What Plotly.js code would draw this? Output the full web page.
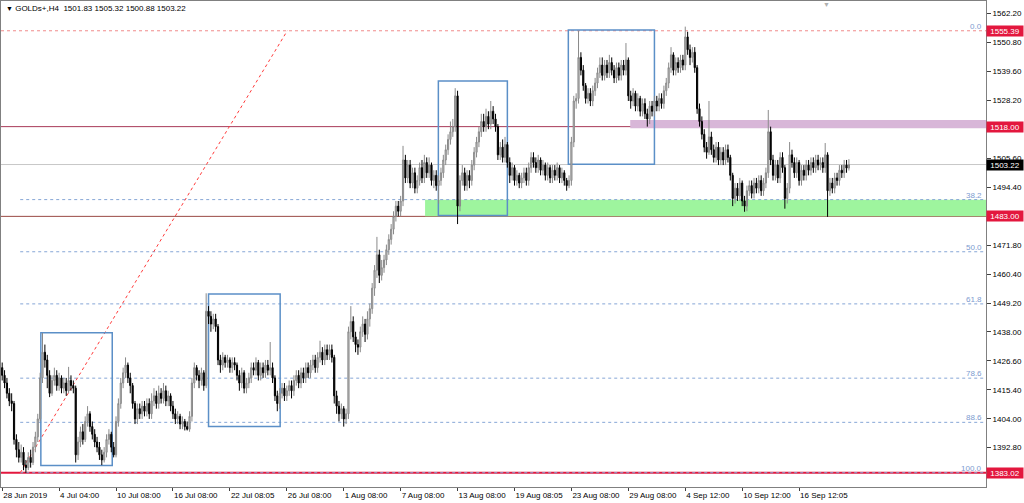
<!DOCTYPE html>
<html><head><meta charset="utf-8">
<script src="https://cdn.plot.ly/plotly-3.0.1.min.js"></script>
<style>html,body{margin:0;padding:0;background:#fff;}#chart{width:1024px;height:503px;}</style>
</head><body><div id="chart"></div>
<script>
const symbolTitle = "GOLDs+,H4  1501.83 1505.32 1500.88 1503.22";

const opens = [
1424,1421,1418,1414,1411,1410,1396,1392,1389,1391,
1386,1385,1389,1387,1393,1397,1404,1420,1430,1427,
1421,1414,1419,1421,1417,1420,1416,1418,1415,1419,
1417,1416,1390,1395,1399,1396,1403,1406,1401,1398,
1395,1393,1390,1388,1391,1396,1398,1393,1390,1403,
1410,1418,1422,1425,1420,1417,1410,1404,1408,1406,
1409,1407,1410,1406,1411,1413,1410,1414,1412,1415,
1411,1413,1409,1406,1404,1405,1402,1403,1401,1400,
1405,1418,1424,1421,1419,1422,1417,1446,1444,1441,
1443,1440,1427,1425,1428,1426,1427,1424,1426,1425,
1421,1418,1422,1416,1418,1420,1424,1423,1426,1421,
1424,1422,1425,1423,1424,1420,1413,1410,1414,1416,
1413,1415,1417,1415,1419,1421,1418,1422,1420,1424,
1422,1425,1427,1424,1428,1430,1427,1431,1429,1431,
1428,1413,1409,1406,1408,1404,1406,1438,1442,1436,
1433,1432,1438,1441,1437,1443,1447,1455,1462,1468,
1460,1463,1466,1470,1474,1478,1483,1487,1485,1489,
1505,1498,1503,1496,1500,1494,1497,1502,1498,1504,
1500,1503,1497,1499,1495,1497,1500,1505,1509,1513,
1516,1518,1530,1487,1497,1500,1495,1499,1497,1503,
1508,1512,1516,1520,1518,1522,1519,1524,1521,1518,
1507,1510,1506,1511,1504,1499,1502,1497,1499,1496,
1498,1500,1497,1502,1506,1504,1502,1505,1501,1503,
1499,1502,1498,1501,1499,1502,1498,1500,1497,1495,
1497,1512,1528,1529,1545,1540,1534,1529,1531,1528,
1532,1535,1539,1542,1538,1542,1539,1543,1540,1537,
1541,1538,1542,1540,1544,1530,1528,1531,1526,1529,
1524,1527,1523,1521,1526,1524,1528,1526,1529,1527,
1532,1535,1541,1546,1540,1543,1541,1544,1542,1553,
1548,1545,1547,1541,1525,1520,1515,1510,1508,1514,
1509,1506,1510,1505,1508,1505,1509,1506,1499,1490,
1494,1491,1496,1489,1487,1493,1495,1492,1496,1494,
1497,1493,1496,1500,1516,1505,1499,1503,1498,1506,
1502,1490,1494,1507,1504,1500,1504,1497,1501,1499,
1503,1501,1504,1502,1505,1503,1504,1502,1507,1493,
1496,1494,1498,1497,1501,1500,1503,1501.83];

const highs = [
1426,1423,1420,1416,1414,1411,1398,1395,1394,1393,
1388,1391,1392,1395,1399,1406,1422,1437.5,1433,1429,
1423,1421,1424,1423,1422,1421,1420,1420,1424.3,1421,
1419,1417,1397,1401,1402,1405,1409,1407,1403,1400,
1397,1395,1392,1393,1398,1400,1399,1395,1405,1412,
1420,1424,1428,1426,1422,1418,1411,1410,1410,1411,
1411,1412,1412,1414,1416,1415,1417,1416,1418,1417,
1415,1414,1411,1408,1407,1406,1405,1404,1403,1407,
1420,1426,1425,1423,1424,1423,1453,1448,1446,1445,
1445,1441,1429,1430,1429,1429,1428,1428,1428,1426,
1423,1424,1423,1420,1422,1426,1426,1428,1427,1426,
1426,1427,1427,1434,1426,1421,1415,1416,1418,1418,
1417,1419,1419,1421,1423,1423,1424,1424,1426,1426,
1427,1429,1429,1430,1434.5,1432,1433,1433,1433,1433,
1429,1415,1411,1410,1409,1408,1440,1448,1444,1438,
1435,1440,1444,1443,1446,1449,1457,1464,1475,1470,
1466,1468,1472,1476,1480,1485,1489,1489,1491,1510.5,
1507,1505,1505,1502,1502,1499,1504,1505,1507,1506,
1506,1504,1501,1501,1499,1502,1507,1511,1515,1520,
1521,1533,1532,1499,1503,1502,1501,1501,1505,1510,
1514,1518,1523,1523,1525,1524,1528,1526,1523,1519,
1512,1513,1514,1512,1506,1504,1503,1501,1500,1500,
1502,1502,1504,1508,1508,1506,1507,1506,1505,1504,
1504,1503,1503,1503,1504,1503,1502,1501,1498,1499,
1514,1530,1531,1555.4,1547,1542,1535,1533,1533,1534,
1537,1541,1545,1545,1544,1544,1546,1545,1542,1543,
1543,1544,1544,1550.6,1545,1532,1533,1532,1531,1530,
1529,1529,1525,1528,1528,1530,1530,1531,1531,1534,
1537,1543,1549,1547,1545,1545,1546,1546,1557,1555,
1550,1549,1549,1542,1527,1522,1517,1512,1528,1516,
1511,1512,1512,1510,1510,1511,1511,1507,1500,1496,
1496,1498,1497,1491,1495,1497,1497,1498,1498,1499,
1499,1498,1502,1524.5,1518,1507,1505,1505,1508,1508,
1503,1496,1512,1509,1506,1506,1505,1503,1503,1505,
1505,1506,1506,1507,1507,1506,1506,1511.6,1508,1498,
1498,1500,1500,1503,1503,1505,1505,1505.32];

const lows = [
1419,1416,1412,1409,1407,1394,1389,1387,1387,1384,
1383,1384,1385,1386,1391,1395,1403,1418,1424,1416,
1412.5,1413,1417,1415,1415,1414,1414,1413,1414,1415,
1414,1387,1388,1393,1394,1395,1401,1399,1396,1393,
1391,1388,1386,1387,1389,1394,1391,1389,1389,1401,
1408,1416,1420,1418,1414,1408,1402,1402,1404,1404,
1405,1405,1404,1404,1409,1408,1408,1410,1410,1409,
1409,1407,1404,1402,1402,1400,1400,1399.5,1399.5,1399,
1403,1416,1419,1416,1417,1415,1416,1441,1438,1439,
1438,1425,1422,1423,1424,1424,1422,1422,1423,1419,
1415,1416,1414,1414,1416,1418,1421,1421,1419,1419,
1420,1420,1421,1421,1418,1411,1407,1408,1412,1411,
1411,1413,1412,1413,1417,1416,1416,1418,1418,1420,
1420,1423,1422,1422,1426,1425,1425,1427,1427,1426,
1410,1406,1403,1404,1401,1402,1404,1435,1434,1430,
1429,1430,1436,1434,1435,1440,1445,1452,1459,1457,
1458,1461,1464,1468,1472,1476,1481,1483,1483,1487,
1496,1496,1494,1494,1492,1492,1495,1496,1496,1498,
1498,1495,1494,1493,1488,1495,1498,1503,1507,1511,
1514,1516,1480,1485,1495,1493,1493,1494,1495,1501,
1506,1510,1514,1516,1516,1517,1517,1519,1516,1505,
1505,1504,1504,1502,1496,1497,1495,1495,1494,1494,
1496,1495,1495,1500,1502,1500,1500,1499,1499,1497,
1497,1496,1496,1497,1497,1496,1496,1495,1493,1494,
1495,1510,1525,1527,1538,1532,1527,1527,1526,1526,
1530,1533,1537,1536,1536,1537,1537,1538,1535,1535,
1536,1536,1538,1538,1528,1525,1526,1524,1524,1522,
1522,1521,1518,1519,1522,1522,1524,1524,1525,1525,
1530,1533,1539,1538,1538,1539,1539,1540,1540,1546,
1542,1543,1539,1523,1518,1513,1508,1505.5,1507,1507,
1504,1504,1503,1503,1503,1503,1504,1497,1487,1488,
1489,1489,1487,1484.8,1485,1491,1490,1490,1492,1492,
1491,1491,1494,1498,1503,1497,1497,1496,1496,1500,
1486,1488,1492,1502,1498,1498,1495,1495,1497,1497,
1499,1499,1500,1500,1501,1501,1500,1500,1482.8,1491,
1492,1492,1495,1495,1498,1498,1500,1500.88];

const closes = [
1421,1418,1414,1411,1410,1396,1392,1389,1391,1386,
1385,1389,1387,1393,1397,1404,1420,1430,1427,1421,
1414,1419,1421,1417,1420,1416,1418,1415,1419,1417,
1416,1390,1395,1399,1396,1403,1406,1401,1398,1395,
1393,1390,1388,1391,1396,1398,1393,1390,1403,1410,
1418,1422,1425,1420,1417,1410,1404,1408,1406,1409,
1407,1410,1406,1411,1413,1410,1414,1412,1415,1411,
1413,1409,1406,1404,1405,1402,1403,1401,1400,1405,
1418,1424,1421,1419,1422,1417,1446,1444,1441,1443,
1440,1427,1425,1428,1426,1427,1424,1426,1425,1421,
1418,1422,1416,1418,1420,1424,1423,1426,1421,1424,
1422,1425,1423,1424,1420,1413,1410,1414,1416,1413,
1415,1417,1415,1419,1421,1418,1422,1420,1424,1422,
1425,1427,1424,1428,1430,1427,1431,1429,1431,1428,
1413,1409,1406,1408,1404,1406,1438,1442,1436,1433,
1432,1438,1441,1437,1443,1447,1455,1462,1468,1460,
1463,1466,1470,1474,1478,1483,1487,1485,1489,1505,
1498,1503,1496,1500,1494,1497,1502,1498,1504,1500,
1503,1497,1499,1495,1497,1500,1505,1509,1513,1516,
1518,1530,1487,1497,1500,1495,1499,1497,1503,1508,
1512,1516,1520,1518,1522,1519,1524,1521,1518,1507,
1510,1506,1511,1504,1499,1502,1497,1499,1496,1498,
1500,1497,1502,1506,1504,1502,1505,1501,1503,1499,
1502,1498,1501,1499,1502,1498,1500,1497,1495,1497,
1512,1528,1529,1545,1540,1534,1529,1531,1528,1532,
1535,1539,1542,1538,1542,1539,1543,1540,1537,1541,
1538,1542,1540,1544,1530,1528,1531,1526,1529,1524,
1527,1523,1521,1526,1524,1528,1526,1529,1527,1532,
1535,1541,1546,1540,1543,1541,1544,1542,1553,1548,
1545,1547,1541,1525,1520,1515,1510,1508,1514,1509,
1506,1510,1505,1508,1505,1509,1506,1499,1490,1494,
1491,1496,1489,1487,1493,1495,1492,1496,1494,1497,
1493,1496,1500,1516,1505,1499,1503,1498,1506,1502,
1490,1494,1507,1504,1500,1504,1497,1501,1499,1503,
1501,1504,1502,1505,1503,1504,1502,1507,1493,1496,
1494,1498,1497,1501,1500,1503,1501.83,1503.22];

// time axis labels (bar index of each label)
const timeTickIndex = [0,24,48,72,96,120,144,168,192,216,240,264,288,312,336];
const timeTickText = ["28 Jun 2019","4 Jul 04:00","10 Jul 08:00","16 Jul 08:00","22 Jul 08:05","26 Jul 08:00","1 Aug 08:00","7 Aug 08:00","13 Aug 08:00","19 Aug 08:05","23 Aug 08:00","29 Aug 08:00","4 Sep 12:00","10 Sep 12:00","16 Sep 12:05"];

// price scale labels (those hidden behind price boxes are left blank)
const priceTicks = [1562.2,1550.8,1539.6,1528.2,1517.0,1505.6,1494.4,1483.0,1471.8,1460.4,1449.2,1438.0,1426.6,1415.4,1404.0,1392.8,1381.4];
const priceTickText = ["1562.20","1550.80","1539.60","1528.20","","1505.60","1494.40","","1471.80","1460.40","1449.20","1438.00","1426.60","1415.40","1404.00","1392.80",""];

// Fibonacci retracement
const fibLevels = [1555.39,1489.54,1469.20,1448.87,1419.90,1402.67,1383.02];
const fibNames = ["0.0","38.2","50.0","61.8","78.6","88.6","100.0"];
const fibStartBar = 7.6;
const trendFrom = [7.6, 1383.02];
const trendTo = [120.2, 1555.39];

// horizontal price levels
const levelPrices = [1555.39, 1518.00, 1503.22, 1483.00, 1383.02];

// zones
const resistZone = [264.8, 1517.4, 1520.6];
const supportZone = [178.3, 1483.0, 1489.5];

// rectangles
const boxStart = [16.3, 87.0, 183.9, 238.7];
const boxEnd = [46.4, 117.2, 213.0, 275.0];
const boxTop = [1437.6, 1452.7, 1535.8, 1555.7];
const boxBottom = [1385.8, 1401.0, 1483.3, 1503.3];

const X_MIN = -0.5, X_MAX = 414.8;
const Y_MIN = 1377.45, Y_MAX = 1567.0;
const FONT = "Liberation Sans, Arial, sans-serif";

const bars = closes.map((_, i) => i);

const trace = {
  type: 'candlestick',
  x: bars, open: opens, high: highs, low: lows, close: closes,
  increasing: {line: {color: '#8a8a8a', width: 1}, fillcolor: '#c4c4c4'},
  decreasing: {line: {color: '#000000', width: 1}, fillcolor: '#000000'},
  whiskerwidth: 0,
  hoverinfo: 'skip',
  showlegend: false
};

const shapes = [];
shapes.push({type:'rect', layer:'below', xref:'x', yref:'y', x0:resistZone[0], x1:X_MAX, y0:resistZone[1], y1:resistZone[2], fillcolor:'#d8b6d8', line:{width:0}});
shapes.push({type:'rect', layer:'below', xref:'x', yref:'y', x0:supportZone[0], x1:X_MAX, y0:supportZone[1], y1:supportZone[2], fillcolor:'#9ef59e', line:{width:0}});
// fib levels (0.0 coincides with the 1555.39 line drawn below)
fibLevels.forEach((v, k) => { if (k > 0) shapes.push({type:'line', layer:'below', xref:'x', yref:'y', x0:fibStartBar, x1:X_MAX, y0:v, y1:v, line:{color:'#86a6d6', width:1, dash:'dot'}}); });
const levelStyles = [
  {color:'#f08a8a', width:1, dash:'dot'},
  {color:'#a83a58', width:1, dash:'solid'},
  {color:'#c8c8c8', width:1, dash:'solid'},
  {color:'#9a4a44', width:1, dash:'solid'},
  {color:'#e3173e', width:2, dash:'solid'}
];
levelPrices.forEach((v, k) => shapes.push({type:'line', layer:'below', xref:'paper', yref:'y', x0:0, x1:1, y0:v, y1:v, line:levelStyles[k]}));
shapes.push({type:'line', layer:'below', xref:'x', yref:'y', x0:trendFrom[0], y0:trendFrom[1], x1:trendTo[0], y1:trendTo[1], line:{color:'#ff3b3b', width:1, dash:'dot'}});
boxStart.forEach((x0, k) => shapes.push({type:'rect', layer:'below', xref:'x', yref:'y', x0:x0, x1:boxEnd[k], y0:boxBottom[k], y1:boxTop[k], line:{color:'#5b8fc7', width:1.5}, fillcolor:'rgba(0,0,0,0)'}));

const annotations = [];
annotations.push({xref:'paper', yref:'paper', x:0, y:1, xanchor:'left', yanchor:'top', xshift:3, yshift:-1, showarrow:false,
  text:'<span style="font-size:7px">▼</span> ' + symbolTitle, font:{family:FONT, size:8, color:'#000'}});
annotations.push({xref:'x', yref:'paper', x:347.4, y:1, xanchor:'center', yanchor:'top', yshift:2, showarrow:false, text:'▼', font:{family:FONT, size:7, color:'#b0b0b0'}});
fibLevels.forEach((v, k) => annotations.push({xref:'paper', yref:'y', x:1, y:v, xanchor:'right', yanchor:'bottom', xshift:-2, yshift:-2, showarrow:false,
  text:fibNames[k], font:{family:FONT, size:8, color:'#7c9bd0'}}));
const boxColors = ['#e3173e','#e3173e','#000000','#e3173e','#e3173e'];
levelPrices.forEach((v, k) => annotations.push({xref:'paper', yref:'y', x:1, y:v, xanchor:'left', yanchor:'middle', xshift:0, showarrow:false,
  text:v.toFixed(2), bgcolor:boxColors[k], width:36, height:10, borderpad:0, align:'center',
  font:{family:FONT, size:8, color:'#ffffff'}}));

const layout = {
  width:1024, height:503,
  margin:{l:1, r:38, t:1, b:16, pad:0},
  paper_bgcolor:'#ffffff', plot_bgcolor:'#ffffff',
  showlegend:false,
  xaxis:{
    range:[X_MIN, X_MAX], fixedrange:true, rangeslider:{visible:false},
    tickmode:'array', tickvals:timeTickIndex, ticktext:timeTickText,
    ticks:'outside', ticklen:3, tickcolor:'#404040', ticklabelposition:'outside right',
    tickangle:0, automargin:false,
    tickfont:{family:FONT, size:8, color:'#000'},
    showline:true, linecolor:'#808080', linewidth:1, mirror:true,
    showgrid:false, zeroline:false
  },
  yaxis:{
    side:'right', range:[Y_MIN, Y_MAX], fixedrange:true,
    tickmode:'array', tickvals:priceTicks, ticktext:priceTickText,
    ticks:'outside', ticklen:4, tickcolor:'#404040', automargin:false,
    tickfont:{family:FONT, size:8, color:'#000'},
    showline:true, linecolor:'#808080', linewidth:1, mirror:true,
    showgrid:false, zeroline:false
  },
  shapes:shapes,
  annotations:annotations
};

Plotly.newPlot('chart', [trace], layout, {staticPlot:true, displayModeBar:false});
</script>
</body></html>
